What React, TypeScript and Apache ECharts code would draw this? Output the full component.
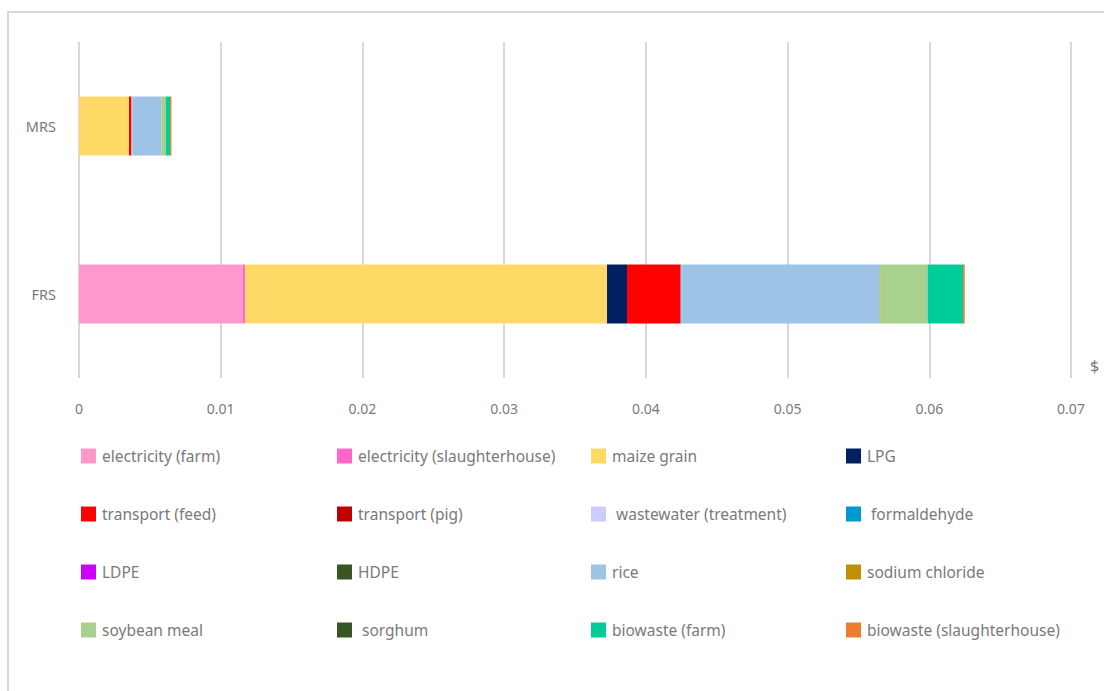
import React, { useEffect, useRef } from "react";
import * as echarts from "echarts";

const categories = ["FRS", "MRS"];

const seriesNames = [
  "electricity (farm)",
  "electricity (slaughterhouse)",
  "maize grain",
  "LPG",
  "transport (feed)",
  "transport (pig)",
  " wastewater (treatment)",
  " formaldehyde",
  "LDPE",
  "HDPE",
  "rice",
  "sodium chloride",
  "soybean meal",
  " sorghum",
  "biowaste (farm)",
  "biowaste (slaughterhouse)",
];

// values per series: [FRS, MRS]
const electricityFarm = [0.01157, 0];
const electricitySlaughter = [0.00014, 0];
const maizeGrain = [0.02555, 0.00353];
const lpg = [0.00141, 0];
const transportFeed = [0.00374, 0.00016];
const transportPig = [0.00005, 0.00002];
const wastewater = [0.00007, 0.00005];
const formaldehyde = [0.00002, 0.00001];
const ldpe = [0.00001, 0];
const hdpe = [0.00001, 0];
const rice = [0.01394, 0.00205];
const sodiumChloride = [0.00005, 0.00001];
const soybeanMeal = [0.00332, 0.00031];
const sorghum = [0, 0];
const biowasteFarm = [0.0025, 0.00028];
const biowasteSlaughter = [0.00012, 0.0001];

const seriesValues = [
  electricityFarm,
  electricitySlaughter,
  maizeGrain,
  lpg,
  transportFeed,
  transportPig,
  wastewater,
  formaldehyde,
  ldpe,
  hdpe,
  rice,
  sodiumChloride,
  soybeanMeal,
  sorghum,
  biowasteFarm,
  biowasteSlaughter,
];

const seriesColors = [
  "#FF99CC",
  "#FF66CC",
  "#FFD966",
  "#002060",
  "#FF0000",
  "#C00000",
  "#CCCCFF",
  "#0099CC",
  "#CC00FF",
  "#375623",
  "#9DC3E6",
  "#BF9000",
  "#A9D18E",
  "#375623",
  "#00CC99",
  "#ED7D31",
];

const xTicks = { min: 0, max: 0.07, interval: 0.01 };

const legendColumns = [
  ["electricity (farm)", "transport (feed)", "LDPE", "soybean meal"],
  ["electricity (slaughterhouse)", "transport (pig)", "HDPE", " sorghum"],
  ["maize grain", " wastewater (treatment)", "rice", "biowaste (farm)"],
  ["LPG", " formaldehyde", "sodium chloride", "biowaste (slaughterhouse)"],
];
const legendLefts = [81, 337, 591, 846];

const FONT = "'Noto Sans', sans-serif";
const TEXT_COLOR = "#7a7a7a";

export default function App() {
  const ref = useRef<HTMLDivElement>(null);
  useEffect(() => {
    if (!ref.current) return;
    const chart = echarts.init(ref.current, undefined, { renderer: "svg" });
    chart.setOption({
      animation: false,
      textStyle: { fontFamily: FONT },
      grid: { left: 79, right: 33, top: 42, bottom: 313, containLabel: false },
      xAxis: {
        type: "value",
        min: xTicks.min,
        max: xTicks.max,
        interval: xTicks.interval,
        axisLine: { show: false },
        axisTick: { show: false },
        axisLabel: { color: TEXT_COLOR, fontSize: 14, margin: 23, fontFamily: FONT },
        splitLine: { show: true, lineStyle: { color: "#d9d9d9", width: 2 } },
      },
      yAxis: {
        type: "category",
        data: categories,
        axisLine: { show: false },
        axisTick: { show: false },
        axisLabel: { color: TEXT_COLOR, fontSize: 14.5, margin: 23, fontFamily: FONT },
        splitLine: { show: false },
      },
      legend: legendColumns.map((col, i) => ({
        data: col,
        orient: "vertical",
        left: legendLefts[i],
        top: 448,
        padding: 0,
        itemWidth: 15,
        itemHeight: 15,
        itemGap: 42,
        icon: "rect",
        selectedMode: false,
        textStyle: { color: TEXT_COLOR, fontSize: 15.5, fontFamily: FONT, padding: [0, 0, 0, 1] },
      })),
      graphic: [
        {
          type: "rect",
          shape: { x: 8, y: 12, width: 1200, height: 800 },
          style: { fill: "none", stroke: "#d9d9d9", lineWidth: 2 },
          silent: true,
        },
        {
          type: "text",
          x: 1090,
          y: 358,
          style: { text: "$", fill: TEXT_COLOR, fontSize: 16, fontFamily: FONT },
          silent: true,
        },
      ],
      series: seriesNames.map((name, i) => ({
        name,
        type: "bar",
        stack: "total",
        barWidth: 59,
        data: seriesValues[i],
        itemStyle: { color: seriesColors[i] },
        emphasis: { disabled: true },
      })),
    });
    return () => chart.dispose();
  }, []);
  return (
    <div
      ref={ref}
      style={{ position: "fixed", left: 0, top: 0, width: 1104, height: 691, background: "#fff" }}
    />
  );
}
